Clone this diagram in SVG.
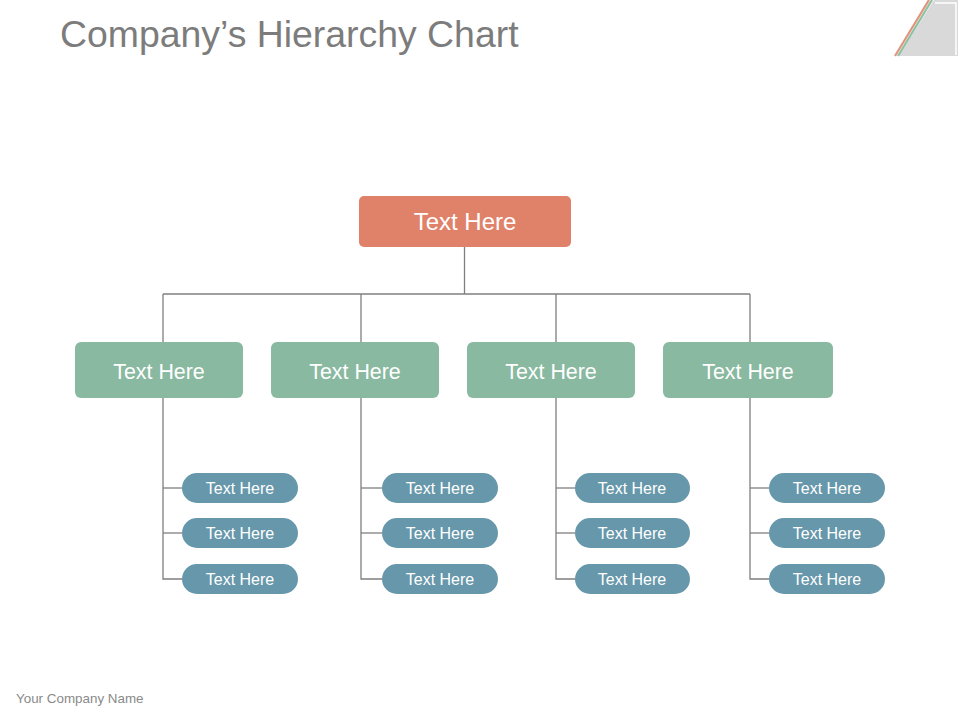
<svg xmlns="http://www.w3.org/2000/svg" width="960" height="720" viewBox="0 0 960 720">
<style>
.lvl0{fill:#E0826A}
.lvl1{fill:#89B9A0}
.lvl2{fill:#6797AB}
.t{font-family:"Liberation Sans",Arial,sans-serif;fill:#FFFFFF;text-anchor:middle}
.t0{font-size:24px}
.t1{font-size:21.4px}
.t2{font-size:16px}
.conn{stroke:#7F7F7F;stroke-width:1.3;fill:none}
</style>
<rect width="960" height="720" fill="#FFFFFF"/>
<g id="decoration">
<polygon points="899,56 934,0 958,0 958,56" fill="#D9D9D9"/>
<line x1="895" y1="56" x2="929" y2="0" stroke="#E0947C" stroke-width="2.2"/>
<line x1="898" y1="56" x2="932" y2="0" stroke="#8FC0A4" stroke-width="2.2"/>
<polyline points="935,3 956,3 956,55" fill="none" stroke="#FFFFFF" stroke-width="1.5"/>
</g>
<text id="title" x="60" y="47" font-family="'Liberation Sans',Arial,sans-serif" font-size="37.4" fill="#7C7C7C">Company’s Hierarchy Chart</text>
<text id="footer" x="16" y="703" font-family="'Liberation Sans',Arial,sans-serif" font-size="13.4" fill="#8A8A8A">Your Company Name</text>
<g id="connectors" class="conn">
<line x1="464.5" y1="247" x2="464.5" y2="294"/>
<line x1="163" y1="294" x2="750" y2="294"/>
<line x1="163" y1="294" x2="163" y2="342"/>
<line x1="361" y1="294" x2="361" y2="342"/>
<line x1="556" y1="294" x2="556" y2="342"/>
<line x1="750" y1="294" x2="750" y2="342"/>
<polyline points="163,398 163,579 182,579"/>
<line x1="163" y1="488" x2="182" y2="488"/>
<line x1="163" y1="533" x2="182" y2="533"/>
<polyline points="361,398 361,579 382,579"/>
<line x1="361" y1="488" x2="382" y2="488"/>
<line x1="361" y1="533" x2="382" y2="533"/>
<polyline points="556,398 556,579 575,579"/>
<line x1="556" y1="488" x2="575" y2="488"/>
<line x1="556" y1="533" x2="575" y2="533"/>
<polyline points="750,398 750,579 769,579"/>
<line x1="750" y1="488" x2="769" y2="488"/>
<line x1="750" y1="533" x2="769" y2="533"/>
</g>
<g id="root"><rect class="lvl0" x="359" y="196" width="212" height="51" rx="5"/><text class="t t0" x="465" y="230">Text Here</text></g>
<g id="m1"><rect class="lvl1" x="75" y="342" width="168" height="56" rx="6"/><text class="t t1" x="159" y="379">Text Here</text></g>
<g id="m2"><rect class="lvl1" x="271" y="342" width="168" height="56" rx="6"/><text class="t t1" x="355" y="379">Text Here</text></g>
<g id="m3"><rect class="lvl1" x="467" y="342" width="168" height="56" rx="6"/><text class="t t1" x="551" y="379">Text Here</text></g>
<g id="m4"><rect class="lvl1" x="663" y="342" width="170" height="56" rx="6"/><text class="t t1" x="748" y="379">Text Here</text></g>
<g id="s1a"><rect class="lvl2" x="182" y="473" width="116" height="30" rx="15"/><text class="t t2" x="240" y="494">Text Here</text></g>
<g id="s1b"><rect class="lvl2" x="182" y="518" width="116" height="30" rx="15"/><text class="t t2" x="240" y="539">Text Here</text></g>
<g id="s1c"><rect class="lvl2" x="182" y="564" width="116" height="30" rx="15"/><text class="t t2" x="240" y="585">Text Here</text></g>
<g id="s2a"><rect class="lvl2" x="382" y="473" width="116" height="30" rx="15"/><text class="t t2" x="440" y="494">Text Here</text></g>
<g id="s2b"><rect class="lvl2" x="382" y="518" width="116" height="30" rx="15"/><text class="t t2" x="440" y="539">Text Here</text></g>
<g id="s2c"><rect class="lvl2" x="382" y="564" width="116" height="30" rx="15"/><text class="t t2" x="440" y="585">Text Here</text></g>
<g id="s3a"><rect class="lvl2" x="575" y="473" width="115" height="30" rx="15"/><text class="t t2" x="632" y="494">Text Here</text></g>
<g id="s3b"><rect class="lvl2" x="575" y="518" width="115" height="30" rx="15"/><text class="t t2" x="632" y="539">Text Here</text></g>
<g id="s3c"><rect class="lvl2" x="575" y="564" width="115" height="30" rx="15"/><text class="t t2" x="632" y="585">Text Here</text></g>
<g id="s4a"><rect class="lvl2" x="769" y="473" width="116" height="30" rx="15"/><text class="t t2" x="827" y="494">Text Here</text></g>
<g id="s4b"><rect class="lvl2" x="769" y="518" width="116" height="30" rx="15"/><text class="t t2" x="827" y="539">Text Here</text></g>
<g id="s4c"><rect class="lvl2" x="769" y="564" width="116" height="30" rx="15"/><text class="t t2" x="827" y="585">Text Here</text></g>
</svg>
